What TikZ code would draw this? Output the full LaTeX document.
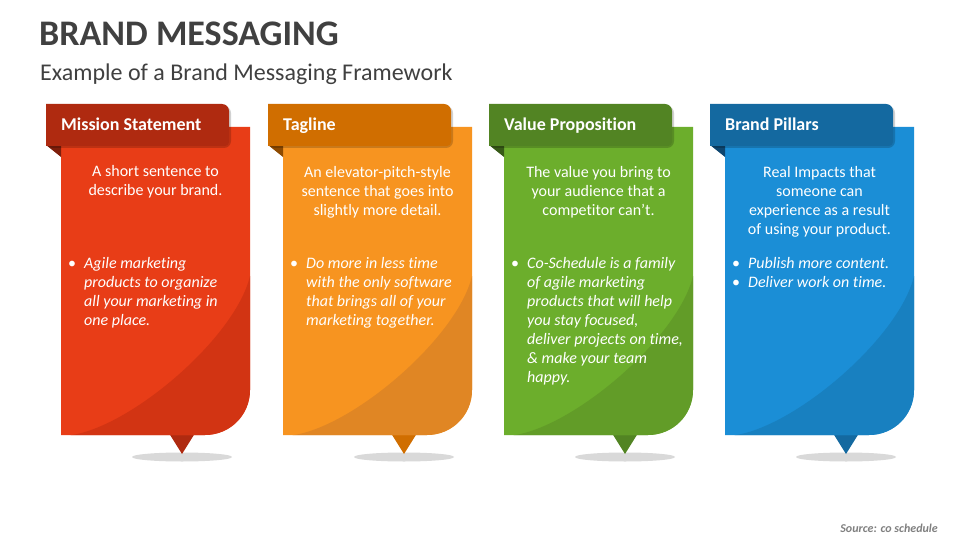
\documentclass[tikz,border=0pt]{standalone}
\usepackage{fontspec}
\setmainfont{Carlito}[Ligatures=NoCommon]
\definecolor{tab1}{HTML}{AF2A10}
\definecolor{body1}{HTML}{E83D17}
\definecolor{dark1}{HTML}{D23413}
\definecolor{fold1}{HTML}{7E1E0B}
\definecolor{tab2}{HTML}{D06E00}
\definecolor{body2}{HTML}{F79420}
\definecolor{dark2}{HTML}{E08624}
\definecolor{fold2}{HTML}{8E4A00}
\definecolor{tab3}{HTML}{528423}
\definecolor{body3}{HTML}{6CAE2C}
\definecolor{dark3}{HTML}{629C28}
\definecolor{fold3}{HTML}{375A17}
\definecolor{tab4}{HTML}{1469A0}
\definecolor{body4}{HTML}{1B8ED6}
\definecolor{dark4}{HTML}{1880C0}
\definecolor{fold4}{HTML}{0D4670}
\definecolor{titlegray}{HTML}{404040}
\definecolor{shadowgray}{HTML}{D9D9D9}
\begin{document}
\begin{tikzpicture}[x=1pt,y=-1pt,
  headtext/.style={anchor=base west,inner sep=0pt,text=white,font=\fontsize{18}{21}\selectfont\bfseries},
  maintext/.style={anchor=base,inner sep=0pt,text=white,align=center,font=\fontsize{16}{19}\selectfont},
  bultext/.style={anchor=base west,inner sep=0pt,text=white,align=left,font=\fontsize{16}{19}\selectfont\itshape},
  bulmark/.style={anchor=base,inner sep=0pt,text=white,font=\fontsize{16}{19}\selectfont}]
\useasboundingbox (0,0) rectangle (960,540);
\fill[white] (0,0) rectangle (960,540);

\node[anchor=base west,inner sep=0pt,text=titlegray,font=\fontsize{36}{42}\selectfont\bfseries] (title) at (39,46) {BRAND MESSAGING};
\node[anchor=base west,inner sep=0pt,text=titlegray,font=\fontsize{24}{28}\selectfont] (subtitle) at (40,81) {Example of a Brand Messaging Framework};

\foreach \i/\bx in {1/61,2/283,3/504,4/725}{
  % shadow under pointer
  \fill[shadowgray] (\bx+121,457) ellipse [x radius=50, y radius=4.5];
  % pointer
  \fill[tab\i] (\bx+106,430) -- (\bx+136,430) -- (\bx+121,454) -- cycle;
  % body
  \fill[body\i] (\bx,127) -- (\bx+189,127) -- (\bx+189,390)
     .. controls (\bx+189,415) and (\bx+169,435) .. (\bx+144,435) -- (\bx,435) -- cycle;
  \begin{scope}
    \clip (\bx,127) -- (\bx+189,127) -- (\bx+189,390)
     .. controls (\bx+189,415) and (\bx+169,435) .. (\bx+144,435) -- (\bx,435) -- cycle;
    \fill[dark\i] (\bx+189,276) .. controls (\bx+174,340) and (\bx+60,436) .. (\bx,436)
      -- (\bx+200,446) -- (\bx+200,276) -- cycle;
  \end{scope}
  % fold
  \fill[fold\i] (\bx-15,145) -- (\bx,145) -- (\bx,157) -- cycle;
  % tab shadow
  \fill[black,opacity=0.18,rounded corners=7pt] (\bx-15,106) -- (\bx+170,106) -- (\bx+170,148) -- (\bx-15,148) -- cycle;
  % tab
  \fill[tab\i] (\bx-15,104) [rounded corners=7pt] -- (\bx+168,104) [rounded corners=4pt] -- (\bx+168,146) [sharp corners] -- (\bx-15,146) -- cycle;
}

\node[headtext] (head1) at (61,131) {Mission Statement};
\node[headtext] (head2) at (283,131) {Tagline};
\node[headtext] (head3) at (504,131) {Value Proposition};
\node[headtext] (head4) at (725,131) {Brand Pillars};

% base anchor of multi-line nodes = last line's baseline (first line at 177, 19pt steps)
\node[maintext] (main1) at (155.5,196) {A short sentence to\\describe your brand.};
\node[maintext] (main2) at (377.5,215) {An elevator-pitch-style\\sentence that goes into\\slightly more detail.};
\node[maintext] (main3) at (598.5,215) {The value you bring to\\your audience that a\\competitor can’t.};
\node[maintext] (main4) at (819.5,234) {Real Impacts that\\someone can\\experience as a result\\of using your product.};

\node[bulmark] (b1) at (72,268) {•};
\node[bultext] (bul1) at (84,325) {Agile marketing\\products to organize\\all your marketing in\\one place.};
\node[bulmark] (b2) at (294,268) {•};
\node[bultext] (bul2) at (306,325) {Do more in less time\\with the only software\\that brings all of your\\marketing together.};
\node[bulmark] (b3) at (515,268) {•};
\node[bultext] (bul3) at (527,382) {Co-Schedule is a family\\of agile marketing\\products that will help\\you stay focused,\\deliver projects on time,\\\& make your team\\happy.};
\node[bulmark] (b4a) at (736,268) {•};
\node[bultext] (bul4a) at (748,268) {Publish more content.};
\node[bulmark] (b4b) at (736,287) {•};
\node[bultext] (bul4b) at (748,287) {Deliver work on time.};

\node[anchor=base east,inner sep=0pt,text=gray,font=\fontsize{12}{14}\selectfont\bfseries\itshape] (source) at (938,532) {Source: co schedule};
\end{tikzpicture}
\end{document}
